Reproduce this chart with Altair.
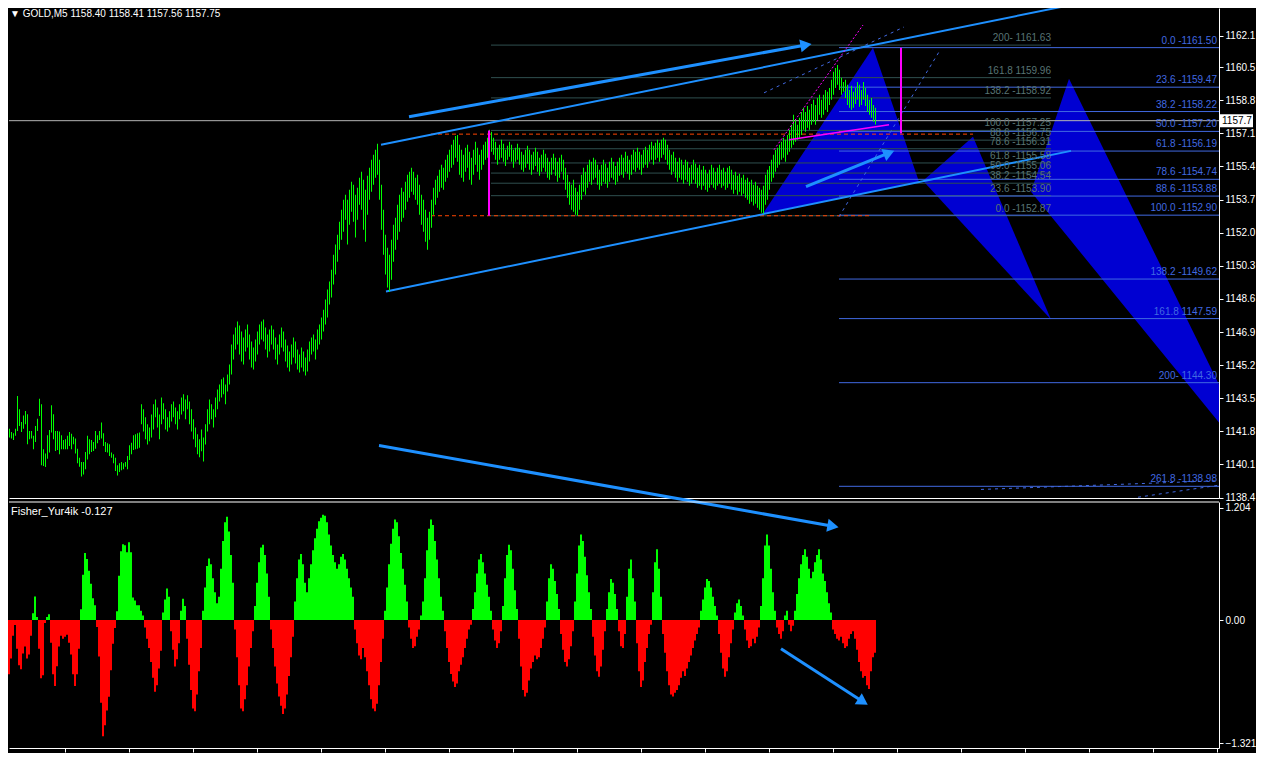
import math
import altair as alt
import pandas as pd

# ---------------- price bars (one per bar index) ----------------
HIGH = [1141.91, 1142.16, 1142.25, 1142.21, 1141.94, 1141.77, 1141.70, 1141.94, 1143.62, 1142.93,
        1142.28, 1142.62, 1142.85, 1142.68, 1141.82, 1141.82, 1141.57, 1142.08, 1142.45, 1143.48,
        1143.19, 1140.88, 1140.67, 1141.60, 1141.87, 1143.14, 1142.68, 1141.82, 1141.82, 1141.80,
        1141.60, 1141.36, 1141.39, 1141.57, 1141.77, 1141.68, 1141.53, 1141.43, 1140.91, 1140.45,
        1140.23, 1140.23, 1140.74, 1141.57, 1141.39, 1141.36, 1141.26, 1141.82, 1141.60, 1141.82,
        1142.25, 1141.70, 1141.26, 1141.19, 1141.14, 1140.71, 1140.62, 1140.45, 1140.06, 1140.16,
        1140.23, 1140.16, 1140.23, 1140.53, 1141.09, 1141.22, 1141.60, 1141.65, 1141.70, 1141.74,
        1143.19, 1142.93, 1142.52, 1142.16, 1142.00, 1142.67, 1143.19, 1143.44, 1143.03, 1142.67,
        1143.54, 1143.24, 1142.93, 1142.52, 1142.83, 1143.19, 1143.34, 1143.03, 1142.83, 1143.19,
        1143.54, 1143.70, 1143.44, 1143.65, 1143.34, 1142.93, 1142.42, 1142.00, 1141.65, 1141.39,
        1141.90, 1141.49, 1142.16, 1142.93, 1143.44, 1143.19, 1142.93, 1143.54, 1143.95, 1144.21,
        1144.47, 1144.57, 1144.21, 1144.72, 1145.23, 1146.26, 1146.77, 1147.13, 1147.44, 1147.23,
        1146.93, 1146.62, 1147.03, 1147.29, 1146.77, 1146.41, 1146.11, 1146.52, 1146.93, 1147.29,
        1147.44, 1147.54, 1147.13, 1146.77, 1147.03, 1147.23, 1147.03, 1146.62, 1146.26, 1146.77,
        1147.13, 1146.93, 1146.52, 1146.21, 1145.90, 1146.26, 1146.62, 1146.41, 1146.00, 1145.75,
        1146.11, 1145.90, 1145.59, 1146.00, 1146.41, 1146.62, 1146.77, 1146.52, 1147.03, 1147.29,
        1147.64, 1148.05, 1148.57, 1149.08, 1149.49, 1150.10, 1150.87, 1151.39, 1151.90, 1152.56,
        1153.18, 1153.69, 1153.95, 1153.69, 1154.21, 1154.62, 1154.46, 1153.95, 1154.31, 1154.82,
        1155.13, 1154.72, 1154.21, 1154.92, 1155.33, 1155.74, 1156.00, 1156.26, 1156.56, 1155.74,
        1154.46, 1153.18, 1151.90, 1151.23, 1150.87, 1151.64, 1152.41, 1152.77, 1153.44, 1153.95,
        1154.31, 1154.10, 1154.62, 1154.97, 1155.13, 1155.33, 1155.13, 1154.82, 1154.97, 1154.46,
        1153.95, 1153.69, 1153.18, 1152.77, 1153.08, 1153.69, 1154.31, 1154.72, 1154.92, 1155.23,
        1155.49, 1155.33, 1155.74, 1156.00, 1156.26, 1156.51, 1156.77, 1156.97, 1157.02, 1156.51,
        1156.26, 1156.00, 1156.36, 1156.51, 1156.15, 1155.85, 1156.26, 1156.67, 1156.36, 1156.00,
        1156.26, 1156.51, 1156.67, 1156.87, 1157.28, 1157.18, 1156.87, 1156.67, 1156.36, 1156.51,
        1156.77, 1156.56, 1156.26, 1156.46, 1156.67, 1156.51, 1156.26, 1156.36, 1156.56, 1156.36,
        1156.15, 1156.00, 1156.26, 1156.46, 1156.26, 1156.00, 1156.15, 1156.36, 1156.15, 1155.85,
        1156.00, 1156.26, 1156.05, 1155.85, 1155.64, 1155.85, 1156.05, 1155.85, 1155.64, 1155.85,
        1156.00, 1155.74, 1155.33, 1154.97, 1154.62, 1154.46, 1154.72, 1154.31, 1154.10, 1154.46,
        1154.97, 1155.33, 1155.13, 1155.49, 1155.74, 1155.64, 1155.85, 1155.74, 1155.49, 1155.23,
        1155.49, 1155.74, 1155.54, 1155.33, 1155.64, 1155.85, 1155.64, 1155.43, 1155.64, 1155.85,
        1156.00, 1155.85, 1156.15, 1155.95, 1155.74, 1156.00, 1156.26, 1156.15, 1156.36, 1156.15,
        1156.00, 1156.26, 1156.41, 1156.26, 1156.51, 1156.67, 1156.46, 1156.62, 1156.77, 1156.62,
        1156.77, 1156.87, 1156.77, 1156.51, 1156.26, 1156.00, 1156.15, 1155.85, 1155.64, 1155.85,
        1155.74, 1155.49, 1155.74, 1155.64, 1155.33, 1155.49, 1155.74, 1155.54, 1155.33, 1155.49,
        1155.23, 1155.43, 1155.23, 1155.02, 1155.23, 1155.49, 1155.33, 1155.13, 1155.33, 1155.49,
        1155.23, 1155.33, 1155.13, 1155.33, 1155.43, 1155.23, 1154.97, 1155.13, 1154.92, 1155.02,
        1154.82, 1154.97, 1154.72, 1154.82, 1154.62, 1154.72, 1154.46, 1154.62, 1154.41, 1154.31,
        1154.21, 1154.41, 1154.97, 1155.23, 1155.43, 1155.74, 1156.00, 1156.26, 1156.36, 1156.51,
        1156.67, 1156.87, 1156.77, 1157.02, 1157.28, 1157.54, 1158.05, 1157.79, 1157.54, 1157.90,
        1158.20, 1158.41, 1158.20, 1158.51, 1158.31, 1158.61, 1158.82, 1158.56, 1158.92, 1159.08,
        1158.82, 1159.08, 1159.33, 1159.23, 1159.43, 1159.85, 1160.26, 1160.46, 1160.61, 1160.36,
        1159.95, 1159.74, 1159.85, 1159.59, 1159.33, 1159.54, 1159.23, 1159.43, 1159.74, 1159.59,
        1159.33, 1159.74, 1159.43, 1159.08, 1158.82, 1158.92, 1158.56, 1158.41]
LOW = [1141.57, 1141.65, 1141.77, 1141.82, 1141.48, 1141.43, 1141.36, 1141.57, 1141.82, 1142.08,
       1141.77, 1141.94, 1142.16, 1141.14, 1141.39, 1141.43, 1140.88, 1141.26, 1141.82, 1142.59,
       1140.06, 1140.02, 1139.97, 1140.40, 1140.71, 1141.74, 1141.39, 1140.79, 1140.84, 1140.62,
       1140.88, 1140.88, 1140.88, 1140.88, 1141.05, 1140.88, 1141.14, 1140.67, 1140.16, 1139.99,
       1139.48, 1139.59, 1139.85, 1140.36, 1140.62, 1140.74, 1140.79, 1140.91, 1141.19, 1141.36,
       1141.43, 1141.05, 1140.74, 1140.71, 1140.53, 1140.45, 1140.16, 1139.76, 1139.54, 1139.71,
       1139.81, 1139.85, 1139.99, 1139.85, 1140.33, 1140.62, 1140.84, 1140.88, 1140.91, 1140.96,
       1142.16, 1141.80, 1141.39, 1141.13, 1141.29, 1141.49, 1141.90, 1142.52, 1142.00, 1141.39,
       1142.16, 1142.42, 1141.90, 1141.80, 1142.00, 1142.31, 1142.52, 1142.16, 1141.90, 1142.42,
       1142.67, 1142.83, 1142.42, 1142.93, 1142.16, 1141.80, 1141.39, 1140.98, 1140.62, 1140.47,
       1140.78, 1140.26, 1141.13, 1141.80, 1142.16, 1142.42, 1142.00, 1142.52, 1142.93, 1143.34,
       1143.54, 1143.70, 1143.19, 1143.85, 1144.21, 1144.72, 1145.49, 1146.00, 1146.26, 1145.75,
       1145.39, 1145.23, 1145.90, 1146.11, 1145.49, 1145.08, 1144.98, 1145.39, 1145.75, 1146.26,
       1146.52, 1146.41, 1146.00, 1145.59, 1145.90, 1146.26, 1146.00, 1145.49, 1145.23, 1145.75,
       1146.11, 1145.90, 1145.39, 1145.08, 1144.87, 1145.23, 1145.59, 1145.28, 1144.98, 1144.82,
       1145.08, 1144.87, 1144.67, 1144.87, 1145.39, 1145.75, 1145.90, 1145.49, 1146.00, 1146.26,
       1146.52, 1146.93, 1147.29, 1147.64, 1148.31, 1148.67, 1149.34, 1149.85, 1150.51, 1151.13,
       1151.64, 1152.05, 1152.67, 1151.39, 1152.41, 1153.08, 1152.56, 1151.75, 1152.67, 1153.44,
       1153.18, 1152.15, 1151.54, 1152.92, 1153.69, 1154.10, 1154.46, 1154.82, 1154.97, 1153.69,
       1152.15, 1150.87, 1149.85, 1149.18, 1148.98, 1149.59, 1150.51, 1151.13, 1151.64, 1152.05,
       1152.56, 1152.77, 1153.18, 1153.59, 1153.80, 1154.10, 1153.95, 1153.69, 1153.44, 1152.92,
       1152.41, 1152.05, 1151.54, 1151.13, 1151.64, 1152.26, 1152.92, 1153.44, 1153.80, 1154.10,
       1154.31, 1154.21, 1154.62, 1154.82, 1155.13, 1155.33, 1155.49, 1155.85, 1155.64, 1154.97,
       1154.82, 1154.62, 1155.13, 1155.33, 1154.72, 1154.46, 1154.97, 1155.49, 1155.13, 1154.72,
       1155.23, 1155.49, 1155.74, 1155.85, 1156.26, 1156.15, 1156.00, 1155.74, 1155.49, 1155.74,
       1155.85, 1155.64, 1155.43, 1155.74, 1155.90, 1155.64, 1155.33, 1155.64, 1155.74, 1155.49,
       1155.23, 1155.13, 1155.33, 1155.54, 1155.23, 1154.97, 1155.23, 1155.43, 1155.13, 1154.92,
       1155.13, 1155.33, 1155.13, 1154.82, 1154.72, 1154.97, 1155.23, 1154.92, 1154.62, 1154.82,
       1155.13, 1154.72, 1154.21, 1153.80, 1153.44, 1153.18, 1153.08, 1152.92, 1152.87, 1153.18,
       1153.69, 1154.10, 1153.95, 1154.31, 1154.62, 1154.46, 1154.72, 1154.82, 1154.46, 1154.21,
       1154.41, 1154.62, 1154.51, 1154.31, 1154.62, 1154.82, 1154.72, 1154.46, 1154.62, 1154.92,
       1154.97, 1154.82, 1155.13, 1155.02, 1154.72, 1154.97, 1155.23, 1155.13, 1155.33, 1155.23,
       1154.97, 1155.33, 1155.49, 1155.33, 1155.64, 1155.74, 1155.49, 1155.74, 1155.85, 1155.64,
       1155.85, 1156.00, 1155.74, 1155.49, 1155.23, 1154.97, 1155.13, 1154.82, 1154.62, 1154.82,
       1154.72, 1154.51, 1154.72, 1154.62, 1154.41, 1154.51, 1154.72, 1154.51, 1154.31, 1154.41,
       1154.21, 1154.41, 1154.21, 1154.10, 1154.31, 1154.46, 1154.31, 1154.21, 1154.41, 1154.51,
       1154.31, 1154.41, 1154.21, 1154.31, 1154.51, 1154.21, 1154.00, 1154.21, 1153.95, 1154.10,
       1153.90, 1154.00, 1153.80, 1153.69, 1153.49, 1153.59, 1153.39, 1153.49, 1153.28, 1153.18,
       1153.03, 1152.98, 1153.44, 1153.69, 1154.21, 1154.62, 1154.82, 1155.13, 1155.33, 1155.49,
       1155.74, 1155.85, 1155.64, 1156.00, 1156.15, 1156.36, 1156.51, 1156.67, 1156.77, 1156.87,
       1157.02, 1157.28, 1157.18, 1157.39, 1157.28, 1157.54, 1157.69, 1157.54, 1157.79, 1158.05,
       1157.90, 1158.05, 1158.31, 1158.20, 1158.56, 1158.82, 1159.08, 1159.43, 1159.59, 1159.33,
       1159.08, 1159.23, 1158.92, 1158.56, 1158.41, 1158.31, 1158.41, 1158.61, 1158.82, 1158.46,
       1158.56, 1158.82, 1158.51, 1158.20, 1158.05, 1157.90, 1157.69, 1157.56]

# ---------------- Fisher histogram ----------------
FISHER = [0.127, 0.021, -0.190, -0.444, -0.581, -0.412, -0.169, -0.053, -0.307, -0.486,
          -0.529, -0.359, -0.285, -0.412, -0.370, -0.169, 0.074, 0.254, 0.032, -0.307,
          -0.624, -0.592, -0.032, 0.032, 0.063, -0.243, -0.581, -0.708, -0.497, -0.285,
          -0.169, -0.201, -0.180, -0.159, -0.243, -0.370, -0.581, -0.708, -0.581, -0.307,
          0.116, 0.486, 0.719, 0.655, 0.529, 0.391, 0.233, 0.159, -0.074, -0.391,
          -0.888, -1.247, -1.131, -0.972, -0.824, -0.539, -0.254, -0.085, 0.095, 0.476,
          0.740, 0.814, 0.803, 0.729, 0.835, 0.729, 0.243, 0.211, 0.159, 0.159,
          0.10, 0.05, -0.08, -0.20, -0.30, -0.45, -0.62, -0.77, -0.70, -0.52,
          -0.33, 0.08, 0.22, 0.34, 0.25, -0.12, -0.32, -0.50, -0.42, -0.25,
          0.10, 0.23, 0.15, -0.20, -0.48, -0.75, -0.95, -0.98, -0.80, -0.55,
          -0.30, 0.10, 0.35, 0.58, 0.66, 0.60, 0.45, 0.30, 0.18, 0.25,
          0.55, 0.85, 1.05, 1.11, 0.95, 0.70, 0.40, -0.10, -0.40, -0.70,
          -0.95, -0.98, -0.85, -0.70, -0.50, -0.30, -0.12, 0.15, 0.40, 0.62,
          0.78, 0.81, 0.70, 0.50, 0.25, -0.10, -0.30, -0.50, -0.68, -0.82,
          -0.92, -1.01, -0.95, -0.80, -0.60, -0.40, -0.18, 0.20, 0.45, 0.65,
          0.71, 0.60, 0.40, 0.30, 0.45, 0.60, 0.75, 0.88, 0.98, 1.06,
          1.10, 1.13, 1.12, 1.05, 0.92, 0.80, 0.70, 0.62, 0.55, 0.60,
          0.68, 0.71, 0.65, 0.55, 0.45, 0.35, 0.25, -0.10, -0.25, -0.38,
          -0.42, -0.30, -0.40, -0.55, -0.70, -0.85, -0.95, -0.98, -0.90, -0.70,
          -0.45, -0.20, 0.10, 0.35, 0.60, 0.82, 0.98, 1.08, 1.05, 0.90,
          0.72, 0.55, 0.38, 0.20, -0.08, -0.20, -0.30, -0.28, -0.18, -0.10,
          0.05, 0.20, 0.45, 0.75, 0.98, 1.08, 1.02, 0.85, 0.65, 0.45,
          0.25, 0.10, -0.12, -0.30, -0.45, -0.58, -0.66, -0.72, -0.68, -0.55,
          -0.48, -0.40, -0.30, -0.20, -0.10, -0.05, 0.12, 0.30, 0.50, 0.65,
          0.71, 0.62, 0.50, 0.38, 0.25, 0.10, -0.10, -0.22, -0.30, -0.25,
          -0.12, 0.15, 0.45, 0.70, 0.81, 0.75, 0.55, 0.32, 0.12, -0.20,
          -0.50, -0.75, -0.82, -0.78, -0.65, -0.52, -0.45, -0.38, -0.42, -0.40,
          -0.30, -0.20, -0.08, 0.20, 0.45, 0.60, 0.55, 0.42, 0.28, 0.12,
          -0.15, -0.32, -0.45, -0.50, -0.42, -0.28, -0.12, 0.20, 0.50, 0.80,
          0.92, 0.85, 0.68, 0.48, 0.30, 0.12, -0.18, -0.38, -0.55, -0.61,
          -0.50, -0.32, -0.12, 0.12, 0.30, 0.44, 0.40, 0.28, 0.12, -0.12,
          -0.28, -0.30, -0.15, 0.25, 0.55, 0.65, 0.45, 0.20, -0.25, -0.55,
          -0.72, -0.65, -0.45, -0.30, -0.15, -0.05, 0.30, 0.62, 0.76, 0.55,
          0.25, -0.15, -0.35, -0.55, -0.70, -0.80, -0.82, -0.78, -0.75, -0.70,
          -0.62, -0.55, -0.60, -0.52, -0.45, -0.38, -0.30, -0.22, -0.15, -0.08,
          0.10, 0.22, 0.35, 0.44, 0.42, 0.35, 0.25, 0.15, 0.05, -0.15,
          -0.35, -0.52, -0.61, -0.55, -0.40, -0.25, -0.10, 0.08, 0.18, 0.22,
          0.15, 0.05, -0.10, -0.22, -0.30, -0.28, -0.20, -0.25, -0.18, -0.08,
          0.15, 0.45, 0.80, 0.92, 0.80, 0.55, 0.30, 0.10, -0.08, -0.15,
          -0.20, -0.12, 0.05, 0.10, -0.05, -0.12, -0.06, 0.10, 0.28, 0.45,
          0.60, 0.70, 0.76, 0.68, 0.55, 0.45, 0.52, 0.62, 0.70, 0.76,
          0.65, 0.50, 0.42, 0.30, 0.18, 0.08, -0.10, -0.15, -0.20, -0.22,
          -0.18, -0.25, -0.30, -0.28, -0.20, -0.15, -0.12, -0.20, -0.32, -0.45,
          -0.55, -0.62, -0.60, -0.70, -0.74, -0.55, -0.40, -0.35]

PRICE_TICKS = [1162.1, 1160.5, 1158.8, 1157.1, 1155.4, 1153.7, 1152.0, 1150.3,
               1148.6, 1146.9, 1145.2, 1143.5, 1141.8, 1140.1, 1138.4]
IND_TICKS = [1.204, 0.0, -1.321]
TIME_TICKS = [32, 64, 96, 128, 160, 192, 224, 256, 288, 320, 352, 384, 416, 448,
              480, 512, 544, 576, 608]

HEADER = "\u25bc GOLD,M5  1158.40 1158.41 1157.56 1157.75"
IND_NAME = "Fisher_Yur4ik -0.127"
LAST_PRICE = 1157.75
LAST_LABEL = "1157.7"

# Fibonacci A (blue, right side)
FIB_A_TEXT = ["0.0 -1161.50", "23.6 -1159.47", "38.2 -1158.22", "50.0 -1157.20",
              "61.8 -1156.19", "78.6 -1154.74", "88.6 -1153.88", "100.0 -1152.90",
              "138.2  -1149.62", "161.8 1147.59", "200- 1144.30", "261.8 -1138.98"]
FIB_A_PRICE = [1161.50, 1159.47, 1158.22, 1157.20, 1156.19, 1154.74, 1153.88, 1152.90,
               1149.62, 1147.59, 1144.30, 1138.98]
FIB_A_START = 419
FIB_A_END = 620

# Fibonacci B (grey)
FIB_B_TEXT = ["200- 1161.63", "161.8 1159.96", "138.2 -1158.92", "100.0 -1157.25",
              "88.6 -1156.75", "78.6 -1156.31", "61.8 -1155.58", "50.0 -1155.06",
              "38.2 -1154.54", "23.6 -1153.90", "0.0 -1152.87"]
FIB_B_PRICE = [1161.63, 1159.96, 1158.92, 1157.25, 1156.75, 1156.31, 1155.58, 1155.06,
               1154.54, 1153.90, 1152.87]
FIB_B_START = 245
FIB_B_END = 525

# red dashed levels
RED_PRICE = [1157.06, 1152.87]
RED_X0 = [215, 215]
RED_X1 = [486, 435]

# magenta vertical lines
MAG_X = [244, 450]
MAG_TOP = [1157.25, 1161.50]
MAG_BOT = [1152.87, 1157.10]

# magenta sloped lines (dotted, solid)
MSEG_X0 = [386.5, 394]
MSEG_Y0 = [1156.26, 1156.77]
MSEG_X1 = [431, 444]
MSEG_Y1 = [1162.66, 1157.54]

# blue channel
CH_X0 = [190, 192.5]
CH_Y0 = [1156.51, 1148.98]
CH_X1 = [532.5, 535]
CH_Y1 = [1163.64, 1156.20]

# thin blue dashed trend lines
DS_X0 = [381.5, 419, 490, 568.5]
DS_Y0 = [1159.18, 1152.82, 1138.82, 1138.42]
DS_X1 = [451.5, 469, 615, 615]
DS_Y1 = [1162.56, 1161.28, 1139.29, 1139.13]

# arrows on price panel
AR_X0 = [204, 402.5, 189]
AR_Y0 = [1157.95, 1154.36, 1141.08]
AR_X1 = [402.5, 444, 416]
AR_Y1 = [1161.64, 1156.10, 1136.93]
# arrow on indicator panel
IAR_X0 = [390]
IAR_Y0 = [-0.307]
IAR_X1 = [431]
IAR_Y1 = [-0.877]

# blue triangles (x, upper edge, lower edge)
TRI_ID = ["t1", "t1", "t1", "t2", "t2", "t2", "t3", "t3", "t3"]
TRI_X = [381, 436, 459, 461, 486, 525, 515, 534, 615]
TRI_TOP = [1152.98, 1161.49, 1154.62, 1154.67, 1156.92, 1147.54, 1154.10, 1159.90, 1142.95]
TRI_BOT = [1152.98, 1154.13, 1154.62, 1154.67, 1151.88, 1147.54, 1154.10, 1151.71, 1141.50]

# ---------------- styling constants ----------------
W = 1210
H_MAIN = 490
H_IND = 246
X_DOM = [4, 609]
Y_DOM = [1138.38, 1163.535]
I_DOM = [-1.374, 1.268]
FONT = "Liberation Sans"
GREEN = "#00FF00"
RED = "#FF0000"
DODGER = "#1E90FF"
ROYAL = "#4169E1"
SLATE = "#2F4F4F"
SLATE_TXT = "#587474"
MAGENTA = "#FF00FF"
ORANGE = "#FF4500"
TRI_COL = "#0000D2"

PX_PER_BAR = W / (X_DOM[1] - X_DOM[0])
PX_PER_PRICE = H_MAIN / (Y_DOM[1] - Y_DOM[0])
PX_PER_IND = H_IND / (I_DOM[1] - I_DOM[0])

xs = alt.Scale(domain=X_DOM, nice=False, zero=False)
ys = alt.Scale(domain=Y_DOM, nice=False, zero=False)
iys = alt.Scale(domain=I_DOM, nice=False, zero=False)

yaxis = alt.Axis(orient="right", values=PRICE_TICKS, format=".1f", labelColor="white",
                 tickColor="white", domainColor="white", tickSize=4, labelPadding=2,
                 labelFontSize=10, labelFont=FONT, grid=False, title=None,
                 labelOverlap=False, labelFlush=False)
xaxis_main = alt.Axis(orient="bottom", domainColor="white", ticks=False, labels=False,
                      grid=False, title=None)
iyaxis = alt.Axis(orient="right", values=IND_TICKS,
                  labelExpr="datum.value == 0 ? '0.00' : format(datum.value, '.3f')",
                  labelColor="white", tickColor="white", domainColor="white", tickSize=4,
                  labelPadding=2, labelFontSize=10, labelFont=FONT, grid=False, title=None,
                  labelOverlap=False, labelFlush=False)
ixaxis = alt.Axis(orient="bottom", values=TIME_TICKS, domainColor="white", tickColor="white",
                  tickSize=4, labels=False, grid=False, title=None)


def X(f):
    return alt.X(f, type="quantitative", scale=xs, axis=xaxis_main)


def Y(f):
    return alt.Y(f, type="quantitative", scale=ys, axis=yaxis)


def IX(f):
    return alt.X(f, type="quantitative", scale=xs, axis=ixaxis)


def IY(f):
    return alt.Y(f, type="quantitative", scale=iys, axis=iyaxis)


def angles(x0, y0, x1, y1, py):
    out = []
    for a, b, c, d in zip(x0, y0, x1, y1):
        ang = math.degrees(math.atan2(-(d - b) * py, (c - a) * PX_PER_BAR))
        out.append(ang % 360)
    return out


# ---------------- data frames ----------------
bars = pd.DataFrame({"i": list(range(len(HIGH))), "high": HIGH, "low": LOW})
bars["x0"] = bars["i"]
bars["x1"] = bars["i"] + 0.5
fis = pd.DataFrame({"i": list(range(len(FISHER))), "v": FISHER})
fis["x0"] = fis["i"] - 0.5
fis["x1"] = fis["i"] + 0.5
fis["z"] = 0.0

fibA = pd.DataFrame({"t": FIB_A_TEXT, "p": FIB_A_PRICE, "x0": FIB_A_START, "x1": FIB_A_END})
fibB = pd.DataFrame({"t": FIB_B_TEXT, "p": FIB_B_PRICE, "x0": FIB_B_START, "x1": FIB_B_END})
reds = pd.DataFrame({"p": RED_PRICE, "x0": RED_X0, "x1": RED_X1})
mags = pd.DataFrame({"x": MAG_X, "t": MAG_TOP, "b": MAG_BOT})
mseg = pd.DataFrame({"x0": MSEG_X0, "y0": MSEG_Y0, "x1": MSEG_X1, "y1": MSEG_Y1})
chan = pd.DataFrame({"x0": CH_X0, "y0": CH_Y0, "x1": CH_X1, "y1": CH_Y1})
dsh = pd.DataFrame({"x0": DS_X0, "y0": DS_Y0, "x1": DS_X1, "y1": DS_Y1})
arr = pd.DataFrame({"x0": AR_X0, "y0": AR_Y0, "x1": AR_X1, "y1": AR_Y1})
arr["ang"] = angles(AR_X0, AR_Y0, AR_X1, AR_Y1, PX_PER_PRICE)
iarr = pd.DataFrame({"x0": IAR_X0, "y0": IAR_Y0, "x1": IAR_X1, "y1": IAR_Y1})
iarr["ang"] = angles(IAR_X0, IAR_Y0, IAR_X1, IAR_Y1, PX_PER_IND)
tri = pd.DataFrame({"id": TRI_ID, "x": TRI_X, "top": TRI_TOP, "bot": TRI_BOT})
last = pd.DataFrame({"p": [LAST_PRICE], "t": [LAST_LABEL]})
last["p_hi"] = last["p"] + 6.5 / PX_PER_PRICE
last["p_lo"] = last["p"] - 6.5 / PX_PER_PRICE

# ---------------- main panel ----------------
tri_l = alt.Chart(tri).mark_area(color=TRI_COL, clip=True, opacity=1).encode(
    x=X("x"), y=Y("top"), y2="bot", detail="id:N")

lastline = alt.Chart(last).mark_rule(color="#B4B4B4", strokeWidth=1).encode(y=Y("p"))

fibB_l = alt.Chart(fibB).mark_rule(color=SLATE, strokeWidth=1).encode(
    x=X("x0"), x2="x1", y=Y("p"))
fibB_t = alt.Chart(fibB).mark_text(align="right", baseline="bottom", dy=-2, color=SLATE_TXT,
                                   font=FONT, fontSize=10).encode(x=X("x1"), y=Y("p"), text="t")
fibA_l = alt.Chart(fibA).mark_rule(color=ROYAL, strokeWidth=1, clip=True).encode(
    x=X("x0"), x2="x1", y=Y("p"))
fibA_t = alt.Chart(fibA).mark_text(align="right", baseline="bottom", dy=-2, color=ROYAL,
                                   font=FONT, fontSize=10).encode(
    x=alt.value(W - 2), y=Y("p"), text="t")

red_l = alt.Chart(reds).mark_rule(color=ORANGE, strokeWidth=1, strokeDash=[4, 3]).encode(
    x=X("x0"), x2="x1", y=Y("p"))

chan_l = alt.Chart(chan).mark_rule(color=DODGER, strokeWidth=2, clip=True).encode(
    x=X("x0"), x2="x1", y=Y("y0"), y2="y1")
dsh_l = alt.Chart(dsh).mark_rule(color=ROYAL, strokeWidth=1, strokeDash=[3, 4],
                                 clip=True).encode(
    x=X("x0"), x2="x1", y=Y("y0"), y2="y1")

# bars left of the visible window are dropped instead of clipped
bars_l = alt.Chart(bars).transform_filter(alt.datum.i >= X_DOM[0]).mark_rect(
    color=GREEN, opacity=1).encode(x=X("x0"), x2="x1", y=Y("high"), y2="low")

mag_v = alt.Chart(mags).mark_rule(color=MAGENTA, strokeWidth=2).encode(
    x=X("x"), y=Y("t"), y2="b")
mseg_dot = alt.Chart(mseg.iloc[[0]]).mark_rule(color=MAGENTA, strokeWidth=1,
                                               strokeDash=[2, 2]).encode(
    x=X("x0"), x2="x1", y=Y("y0"), y2="y1")
mseg_sol = alt.Chart(mseg.iloc[[1]]).mark_rule(color=MAGENTA, strokeWidth=1.5).encode(
    x=X("x0"), x2="x1", y=Y("y0"), y2="y1")

arr_l = alt.Chart(arr).mark_rule(color=DODGER, strokeWidth=3).encode(
    x=X("x0"), x2="x1", y=Y("y0"), y2="y1")
arr_h = alt.Chart(arr).mark_point(shape="triangle-right", filled=True, size=170,
                                  color=DODGER, opacity=1).encode(
    x=X("x1"), y=Y("y1"), angle=alt.Angle("ang:Q", scale=None))

hdr = alt.Chart(last).mark_text(align="left", baseline="top", color="white", font=FONT,
                                fontSize=10).encode(
    x=alt.value(1), y=alt.value(1), text=alt.value(HEADER))

box = alt.Chart(last).mark_rect(color="white").encode(
    x=alt.value(W + 1), x2=alt.value(W + 34), y=Y("p_hi"), y2="p_lo")
box_t = alt.Chart(last).mark_text(align="left", baseline="middle", color="black", font=FONT,
                                  fontSize=10).encode(
    x=alt.value(W + 3), y=Y("p"), text="t")

main = alt.layer(tri_l, lastline, fibB_l, fibA_l, red_l, chan_l, dsh_l, bars_l,
                 mag_v, mseg_dot, mseg_sol, fibB_t, fibA_t, arr_l, arr_h, hdr, box, box_t
                 ).properties(width=W, height=H_MAIN)

# ---------------- indicator panel ----------------
ind_bars = alt.Chart(fis).transform_filter(alt.datum.i >= X_DOM[0]).mark_rect().encode(
    x=IX("x0"), x2="x1", y=IY("v"), y2="z",
    color=alt.condition(alt.datum.v >= 0, alt.value(GREEN), alt.value(RED)))
ind_top = alt.Chart(last).mark_rule(color="white", strokeWidth=1).encode(y=alt.value(0))
ind_name = alt.Chart(last).mark_text(align="left", baseline="top", color="white", font=FONT,
                                     fontSize=11).encode(
    x=alt.value(2), y=alt.value(4), text=alt.value(IND_NAME))
iarr_l = alt.Chart(iarr).mark_rule(color=DODGER, strokeWidth=3).encode(
    x=IX("x0"), x2="x1", y=IY("y0"), y2="y1")
iarr_h = alt.Chart(iarr).mark_point(shape="triangle-right", filled=True, size=170,
                                    color=DODGER, opacity=1).encode(
    x=IX("x1"), y=IY("y1"), angle=alt.Angle("ang:Q", scale=None))

ind = alt.layer(ind_bars, ind_top, ind_name, iarr_l, iarr_h).properties(width=W, height=H_IND)

chart = alt.vconcat(main, ind, spacing=4, bounds="flush").properties(padding=0).configure(
    background="#000000").configure_view(stroke=None)

chart.save("out.html", embed_options={"renderer": "svg", "actions": False})
